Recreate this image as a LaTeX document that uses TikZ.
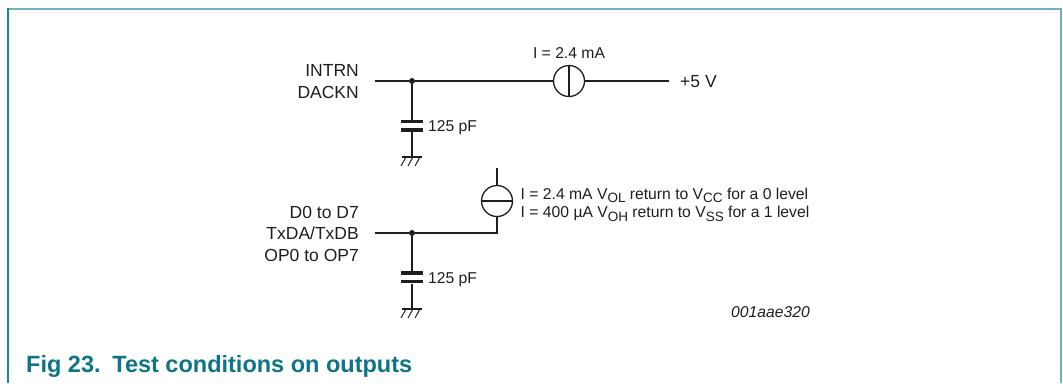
\documentclass[tikz,border=0pt]{standalone}
\usepackage{fontspec}
\setmainfont{Liberation Sans}
\definecolor{titleteal}{HTML}{0F7486}
\definecolor{frameleft}{HTML}{1F8496}
\definecolor{frametop}{HTML}{6DB2C0}
\definecolor{wirec}{HTML}{1E1E1E}
\newcommand\sbs[1]{\raisebox{-0.45ex}{\fontsize{13.5}{13.5}\selectfont #1}}
\begin{document}
\begin{tikzpicture}[x=1pt,y=-1pt,
  wire/.style={line width=1.3pt, draw=wirec},
  hatch/.style={line width=1pt, draw=wirec},
  src/.style={circle, draw=wirec, line width=1.3pt, minimum size=31pt, inner sep=0pt},
  plate/.style={rectangle, fill=wirec, draw=none, minimum width=22pt, minimum height=3.6pt, inner sep=0pt},
  jdot/.style={circle, fill=wirec, inner sep=0pt, minimum size=6pt},
  biglbl/.style={font=\fontsize{17.5}{20}\selectfont, inner sep=0pt, text=wirec},
  smalllbl/.style={font=\fontsize{15.7}{18}\selectfont, inner sep=0pt, text=wirec},
  titlelbl/.style={font=\fontsize{23.5}{26}\selectfont\bfseries, inner sep=0pt, text=titleteal}]
\useasboundingbox (0,0) rectangle (1063,383);
% frame
\draw[line width=2pt, draw=frametop] (8,9) -- (1061,9);
\draw[line width=2pt, draw=frameleft] (8,8) -- (8,383);
\draw[line width=2pt, draw=frametop] (1061,8) -- (1061,383);
% ---------- top circuit ----------
\coordinate (w1) at (375,81);
\node[jdot] (j1) at (412,81) {};
\node[src] (s1) at (569,81) {};
\coordinate (v5) at (669,81);
\draw[wire] (w1) -- (j1) -- (s1.west);
\draw[wire] (s1.east) -- (v5);
\draw[wire] (s1.north) -- (s1.south);
\node[plate] (c1a) at (412,121.5) {};
\node[plate] (c1b) at (412,130) {};
\coordinate (g1) at (412,157);
\draw[wire] (j1) -- (c1a);
\draw[wire] (c1b) -- (g1);
\draw[wire] ([xshift=-10pt]g1) -- ([xshift=10pt]g1);
\draw[hatch] ([xshift=-6pt]g1) -- ++(-5,9)
             ([xshift=1pt]g1) -- ++(-5,9)
             ([xshift=8pt]g1) -- ++(-5,9);
\node[biglbl, anchor=base east] (l1) at (359,76) {INTRN};
\node[biglbl, anchor=base east] (l2) at (359,98) {DACKN};
\node[smalllbl, anchor=base] (i1) at (569,58) {I = 2.4 mA};
\node[biglbl, anchor=base west] (p5) at (680,87) {+5 V};
\node[smalllbl, anchor=base west] (cl1) at (428,131.5) {125 pF};
% ---------- bottom circuit ----------
\coordinate (w2) at (375,233);
\node[jdot] (j2) at (412,233) {};
\node[src] (s2) at (497,201) {};
\coordinate (t2) at (497,168);
\coordinate (k2) at (497,233);
\draw[wire] (w2) -- (j2) -- (k2) -- (s2.south);
\draw[wire] (s2.north) -- (t2);
\draw[wire] (s2.west) -- (s2.east);
\node[plate] (c2a) at (412,273) {};
\node[plate] (c2b) at (412,281.5) {};
\coordinate (g2) at (412,309);
\draw[wire] (j2) -- (c2a);
\draw[wire] (c2b) -- (g2);
\draw[wire] ([xshift=-10pt]g2) -- ([xshift=10pt]g2);
\draw[hatch] ([xshift=-6pt]g2) -- ++(-5,9)
             ([xshift=1pt]g2) -- ++(-5,9)
             ([xshift=8pt]g2) -- ++(-5,9);
\node[biglbl, anchor=base east] (l3) at (359,218) {D0 to D7};
\node[biglbl, anchor=base east] (l4) at (359,239.5) {TxDA/TxDB};
\node[biglbl, anchor=base east] (l5) at (359,261) {OP0 to OP7};
\node[smalllbl, anchor=base west] (a1) at (520.5,199) {I = 2.4 mA V\sbs{OL} return to V\sbs{CC} for a 0 level};
\node[smalllbl, anchor=base west] (a2) at (520.5,217.5) {I = 400 µA V\sbs{OH} return to V\sbs{SS} for a 1 level};
\node[smalllbl, anchor=base west] (cl2) at (428,283) {125 pF};
\node[smalllbl, anchor=base east, font=\fontsize{15.7}{18}\selectfont\itshape] (id) at (810,317) {001aae320};
% ---------- title ----------
\node[titlelbl, anchor=base west] (ttl) at (26,372) {Fig 23.\hspace{0.5em}Test conditions on outputs};
\end{tikzpicture}
\end{document}
